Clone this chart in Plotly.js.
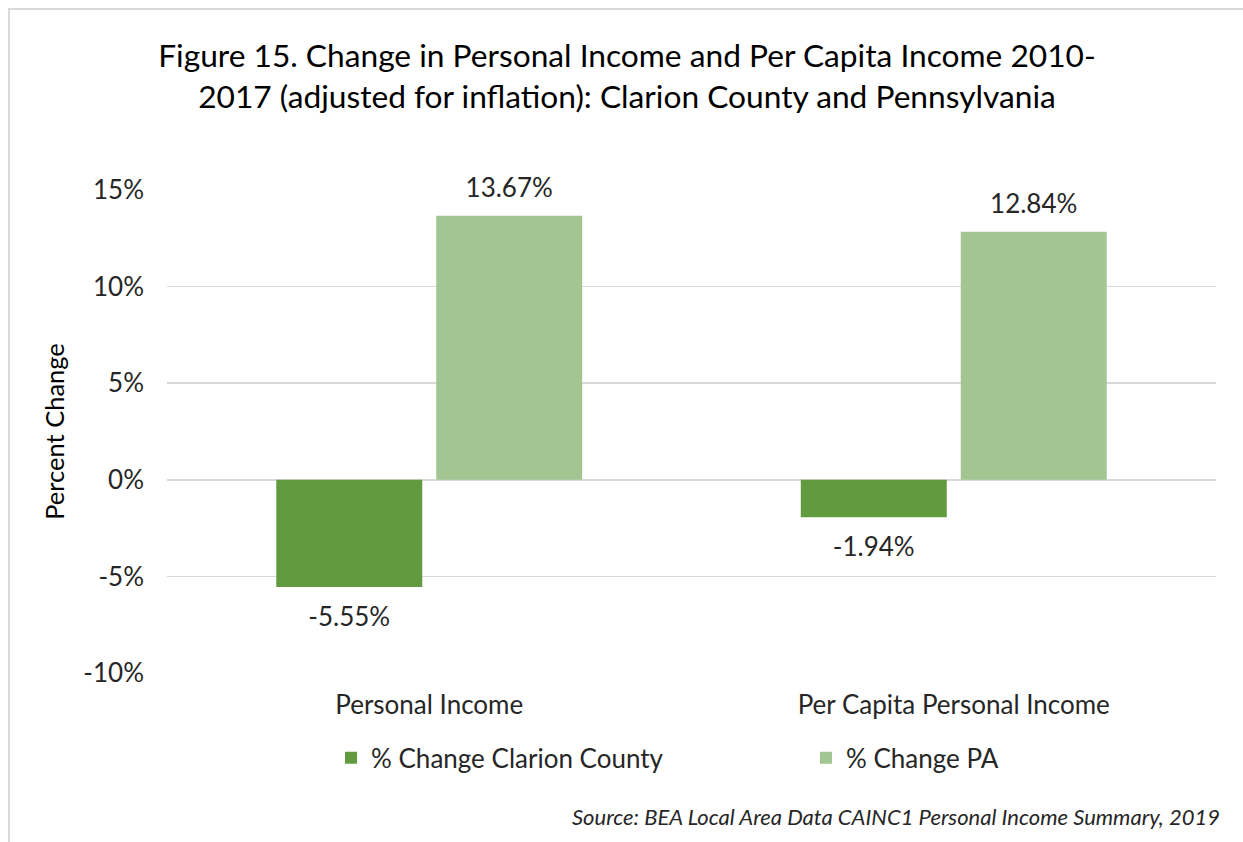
<!DOCTYPE html>
<html>
<head>
<meta charset="utf-8">
<script src="https://cdn.plot.ly/plotly-3.0.1.min.js"></script>
<style>
  html, body { margin: 0; padding: 0; background: #ffffff; }
  #wrap { position: relative; width: 1243px; height: 842px; }
  #chart { width: 1243px; height: 842px; }
  #frame { position: absolute; left: 8px; top: 8px; right: -4px; bottom: -4px;
           border-left: 2px solid #d9d9d9; border-top: 2px solid #d9d9d9; pointer-events: none; }
</style>
</head>
<body>
<div id="wrap">
  <div id="chart"></div>
  <div id="frame"></div>
</div>
<script>
const categories = ["Personal Income", "Per Capita Personal Income"];
const seriesNames = ["% Change Clarion County", "% Change PA"];
const clarionValues = [-5.55, -1.94];
const paValues = [13.67, 12.84];
const tickValues = [-10, -5, 0, 5, 10, 15];
const tickLabels = ["-10%", "-5%", "0%", "5%", "10%", "15%"];

const FONT = "Lato, 'Open Sans', sans-serif";
const TXT = "#262626";
const darkGreen = "#629b3f";
const lightGreen = "#a2c592";
const BARGAP = 0.39;

const fmt = v => v.toFixed(2) + "%";
const pos = v => v < 0 ? "bottom center" : "top center";
// invisible marker size controls the label's distance from the bar end
const gapSize = v => v < 0 ? 29 : 18;

const traces = [
  {
    type: "bar", name: seriesNames[0], x: categories, y: clarionValues,
    marker: { color: darkGreen }, hoverinfo: "skip", legend: "legend"
  },
  {
    type: "bar", name: seriesNames[1], x: categories, y: paValues,
    marker: { color: lightGreen }, hoverinfo: "skip", legend: "legend2"
  },
  {
    type: "scatter", mode: "markers+text", x: categories, y: clarionValues,
    text: clarionValues.map(fmt), textposition: clarionValues.map(pos),
    textfont: { family: FONT, size: 26, color: TXT },
    marker: { size: clarionValues.map(gapSize), opacity: 0 },
    showlegend: false, hoverinfo: "skip", cliponaxis: false
  },
  {
    type: "scatter", mode: "markers+text", x: categories, y: paValues,
    text: paValues.map(fmt), textposition: paValues.map(pos),
    textfont: { family: FONT, size: 26, color: TXT },
    marker: { size: paValues.map(gapSize), opacity: 0 },
    showlegend: false, hoverinfo: "skip", cliponaxis: false
  }
];

const legendCommon = {
  orientation: "h",
  xref: "container", yref: "container",
  xanchor: "left", yanchor: "middle",
  y: 0.0998,
  font: { family: FONT, size: 26, color: TXT },
  bgcolor: "rgba(0,0,0,0)", borderwidth: 0
};

const layout = {
  width: 1243, height: 842,
  paper_bgcolor: "#ffffff", plot_bgcolor: "#ffffff",
  margin: { l: 167, r: 27, t: 190, b: 169 },
  font: { family: FONT, color: TXT, size: 26 },
  barmode: "group",
  bargap: BARGAP,
  bargroupgap: 0.0875,
  scattermode: "group",
  scattergap: BARGAP,
  title: {
    text: "Figure 15. Change in Personal Income and Per Capita Income 2010-<br>2017 (adjusted for inflation): Clarion County and Pennsylvania",
    font: { family: FONT, size: 31.7, color: "#000000" },
    x: 0.5044, xanchor: "center", y: 0.921, yanchor: "middle"
  },
  xaxis: {
    type: "category",
    showgrid: false, zeroline: false, showline: false,
    ticks: "", ticklabelstandoff: 14,
    tickfont: { family: FONT, size: 26, color: TXT }
  },
  yaxis: {
    range: [-10, 15],
    tickvals: tickValues, ticktext: tickLabels,
    showgrid: true, gridcolor: "#d9d9d9", gridwidth: 1.5,
    zeroline: true, zerolinecolor: "#d9d9d9", zerolinewidth: 1.5,
    showline: false, ticks: "", ticklabelstandoff: 22,
    tickfont: { family: FONT, size: 26, color: TXT },
    title: { text: "Percent Change", font: { family: FONT, size: 25.5, color: "#000000" }, standoff: 11 }
  },
  legend: Object.assign({}, legendCommon, { x: 0.2663 }),
  legend2: Object.assign({}, legendCommon, { x: 0.6484 }),
  annotations: [
    {
      text: "<i>Source: BEA Local Area Data CAINC1 Personal Income Summary, 2019</i>",
      xref: "paper", yref: "paper", x: 1.0057, y: -0.298,
      xanchor: "right", yanchor: "middle", showarrow: false,
      font: { family: FONT, size: 22, color: TXT }
    }
  ]
};

Plotly.newPlot("chart", traces, layout, { staticPlot: true, displayModeBar: false });
</script>
</body>
</html>
